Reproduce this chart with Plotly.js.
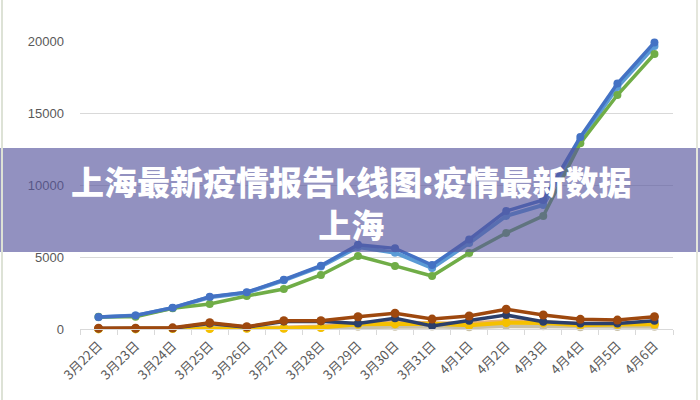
<!DOCTYPE html>
<html>
<head>
<meta charset="utf-8">
<script src="https://cdn.plot.ly/plotly-3.0.1.min.js"></script>
<style>html,body{margin:0;padding:0;background:#fff;}#chart{width:700px;height:400px;}</style>
</head>
<body>
<div id="chart"></div>
<script>
var dates = ['3月22日','3月23日','3月24日','3月25日','3月26日','3月27日','3月28日','3月29日','3月30日','3月31日','4月1日','4月2日','4月3日','4月4日','4月5日','4月6日'];
var seriesBlue      = [830, 940, 1480, 2240, 2560, 3420, 4400, 5850, 5600, 4440, 6220, 8190, 8960, 13330, 17050, 19900];
var seriesOrange    = [10, 10, 40, 60, 70, 100, 180, 420, 470, 400, 380, 560, 480, 330, 360, 400];
var seriesGrey      = [0, 0, 20, 30, 40, 50, 80, 150, 160, 170, 120, 200, 190, 120, 140, 150];
var seriesYellow    = [4, 4, 29, 38, 45, 50, 96, 326, 355, 358, 260, 438, 425, 268, 311, 322];
var seriesLightBlue = [820, 930, 1460, 2200, 2520, 3380, 4340, 5700, 5300, 4240, 5970, 7850, 8610, 13100, 16800, 19650];
var seriesGreen     = [850, 850, 1440, 1740, 2290, 2780, 3750, 5070, 4380, 3680, 5280, 6670, 7850, 12900, 16250, 19100];
var seriesNavy      = [40, 40, 60, 380, 130, 520, 540, 390, 740, 210, 580, 970, 510, 390, 390, 580];
var seriesBrown     = [60, 60, 80, 440, 160, 580, 580, 850, 1090, 690, 900, 1370, 970, 670, 620, 850];
var bannerLine1 = '上海最新疫情报告k线图:疫情最新数据';
var bannerLine2 = '上海';

function tr(y, color, w, ms) {
  return {x: dates, y: y, type: 'scatter', mode: 'lines+markers',
    line: {color: color, width: w},
    marker: {color: color, size: ms, symbol: 'circle'},
    cliponaxis: false, hoverinfo: 'skip'};
}
var data = [
  tr(seriesOrange, '#E8B070', 4, 8),
  tr(seriesGrey, '#C8C0A8', 4, 8),
  tr(seriesYellow, '#F5C000', 4, 9),
  tr(seriesLightBlue, '#5B9BD5', 4, 8),
  tr(seriesGreen, '#70AD47', 3.5, 8),
  tr(seriesBlue, '#4472C4', 3.5, 8),
  tr(seriesNavy, '#2B3F6B', 3.5, 8),
  tr(seriesBrown, '#9E480E', 3.5, 9)
];

var W = 700, H = 400, L = 80, R = 27, T = 41, B = 71;
var pw = W - L - R, ph = H - T - B;
function px(x) { return (x - L) / pw; }
function py(y) { return (H - B - y) / ph; }

var layout = {
  width: W, height: H,
  margin: {l: L, r: R, t: T, b: B},
  paper_bgcolor: '#ffffff', plot_bgcolor: '#ffffff',
  showlegend: false,
  font: {family: 'Liberation Sans, Arial, sans-serif', color: '#595959', size: 11},
  xaxis: {
    type: 'category', range: [-0.5, 15.5],
    showgrid: false, zeroline: false,
    showline: true, linecolor: '#d9d9d9', linewidth: 1,
    ticks: 'outside', ticklen: 5, tickcolor: '#d9d9d9', tickson: 'boundaries',
    tickangle: -45, ticklabelstandoff: 3,
    tickfont: {family: 'Noto Sans CJK SC, sans-serif', size: 13, color: '#595959'}
  },
  yaxis: {
    range: [0, 20000], tickvals: [0, 5000, 10000, 15000, 20000],
    ticktext: ['0', '5000', '10000', '15000', '20000'],
    showgrid: true, gridcolor: '#d9d9d9', gridwidth: 1,
    zeroline: false, showline: false, ticks: '',
    ticklabelstandoff: 15,
    tickfont: {family: 'Liberation Sans, Arial, sans-serif', size: 13, color: '#595959'}
  },
  shapes: [
    {type: 'rect', xref: 'paper', yref: 'paper', x0: px(0), x1: px(700), y0: py(252), y1: py(148),
     fillcolor: 'rgba(88,86,158,0.65)', line: {width: 0}, layer: 'above'},
    {type: 'line', xref: 'paper', yref: 'paper', x0: px(2), x1: px(2), y0: py(400), y1: py(0),
     line: {color: '#dde2d6', width: 2}},
    {type: 'line', xref: 'paper', yref: 'paper', x0: px(697), x1: px(697), y0: py(400), y1: py(0),
     line: {color: '#e4e6dc', width: 2}}
  ],
  annotations: [
    {text: bannerLine1 + '<br>' + bannerLine2, xref: 'paper', yref: 'paper', x: px(351), y: py(202), xanchor: 'center', yanchor: 'middle',
     align: 'center', showarrow: false,
     font: {family: 'Noto Sans CJK SC, sans-serif', size: 33, color: '#ffffff', weight: 900}}
  ]
};
Plotly.newPlot('chart', data, layout, {staticPlot: true, displayModeBar: false});
</script>
</body>
</html>
